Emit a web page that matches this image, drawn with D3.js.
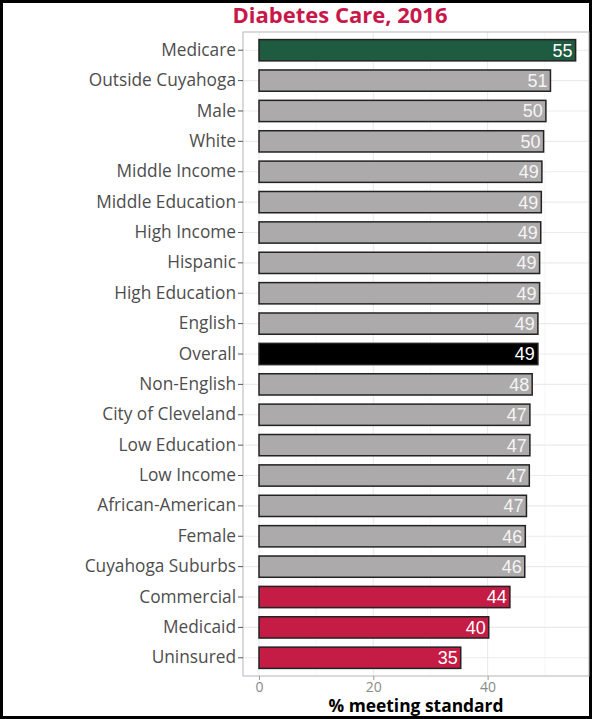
<!DOCTYPE html>
<html><head><meta charset="utf-8">
<script src="https://cdn.jsdelivr.net/npm/d3@7"></script>
<style>body{margin:0;background:#fff}svg{display:block}</style>
</head><body>
<script>
const categories = ["Medicare","Outside Cuyahoga","Male","White","Middle Income","Middle Education","High Income","Hispanic","High Education","English","Overall","Non-English","City of Cleveland","Low Education","Low Income","African-American","Female","Cuyahoga Suburbs","Commercial","Medicaid","Uninsured"];
const values = [55.4,51.0,50.2,49.8,49.5,49.4,49.3,49.1,49.1,48.8,48.8,47.8,47.4,47.4,47.3,46.8,46.6,46.5,43.9,40.2,35.3];
const labels = [55,51,50,50,49,49,49,49,49,49,49,48,47,47,47,47,46,46,44,40,35];
const groups = ["medicare","gray","gray","gray","gray","gray","gray","gray","gray","gray","overall","gray","gray","gray","gray","gray","gray","gray","red","red","red"];
const xTicks = [0,20,40];
const minorTicks = [10,30,50];
const title = "Diabetes Care, 2016";
const xTitle = "% meeting standard";

const colors = {medicare:"#1f5b40", gray:"#acaaab", overall:"#000000", red:"#c41c45"};

const W=592,H=719;
const svg=d3.select("body").append("svg").attr("width",W).attr("height",H);
svg.append("rect").attr("x",1.5).attr("y",1.5).attr("width",W-3).attr("height",H-3)
  .attr("fill","#fff").attr("stroke","#000").attr("stroke-width",3);

const pL=243,pR=589,pT=32,pB=676;
const x=d3.scaleLinear().domain([0,40]).range([259,487.6]);
const step=(pB-pT)/(categories.length-1+1.2);
const y=d3.scaleBand().domain(categories)
  .range([pT+0.6*step-step/2, pB-0.6*step+step/2]).paddingInner(0.3).paddingOuter(0.15);

const g=svg.append("g");
minorTicks.forEach(t=>g.append("line").attr("x1",x(t)).attr("x2",x(t)).attr("y1",pT).attr("y2",pB).attr("stroke","#f2f2f2").attr("stroke-width",0.6));
xTicks.forEach(t=>g.append("line").attr("x1",x(t)).attr("x2",x(t)).attr("y1",pT).attr("y2",pB).attr("stroke","#ebebeb").attr("stroke-width",1.1));
categories.forEach(c=>g.append("line").attr("x1",pL).attr("x2",pR).attr("y1",y(c)+y.bandwidth()/2).attr("y2",y(c)+y.bandwidth()/2).attr("stroke","#ebebeb").attr("stroke-width",1.1));

g.selectAll("rect.bar").data(categories).join("rect").attr("class","bar")
  .attr("x",x(0)).attr("y",d=>y(d)).attr("width",(d,i)=>x(values[i])-x(0)).attr("height",y.bandwidth())
  .attr("fill",(d,i)=>colors[groups[i]]).attr("stroke","#222").attr("stroke-width",1.5);

g.selectAll("text.val").data(categories).join("text").attr("class","val")
  .attr("x",(d,i)=>x(values[i])-3).attr("y",d=>y(d)+y.bandwidth()/2).attr("dy","0.36em")
  .attr("text-anchor","end").attr("font-family","Liberation Sans, Arial, sans-serif").attr("font-size",18)
  .attr("fill",(d,i)=>groups[i]==="gray"?"#f4f4f4":"#ffffff").text((d,i)=>labels[i]);

svg.append("rect").attr("x",pL).attr("y",pT).attr("width",pR-pL).attr("height",pB-pT)
  .attr("fill","none").attr("stroke","#b5b5b5").attr("stroke-width",1);

const yAxis=svg.append("g").attr("transform",`translate(${pL},0)`)
  .call(d3.axisLeft(y).tickSize(5).tickPadding(2));
yAxis.select(".domain").remove();
yAxis.selectAll(".tick line").attr("stroke","#555");
yAxis.selectAll(".tick text").attr("font-family","Open Sans, sans-serif").attr("font-size",17.3).attr("fill","#4d4d4d");

const xAxis=svg.append("g").attr("transform",`translate(0,${pB})`)
  .call(d3.axisBottom(x).tickValues(xTicks).tickSize(4).tickPadding(2));
xAxis.select(".domain").remove();
xAxis.selectAll(".tick line").attr("stroke","#999");
xAxis.selectAll(".tick text").attr("font-family","Open Sans, sans-serif").attr("font-size",14).attr("fill","#8a8a8a");

svg.append("text").attr("x",(pL+pR)/2).attr("y",712).attr("text-anchor","middle")
  .attr("font-family","Open Sans, sans-serif").attr("font-weight","bold").attr("font-size",17.4).attr("fill","#000").text(xTitle);
svg.append("text").attr("x",340).attr("y",23).attr("text-anchor","middle")
  .attr("font-family","Open Sans, sans-serif").attr("font-weight","bold").attr("font-size",22).attr("fill","#c8184a").text(title);
</script>
</body></html>
